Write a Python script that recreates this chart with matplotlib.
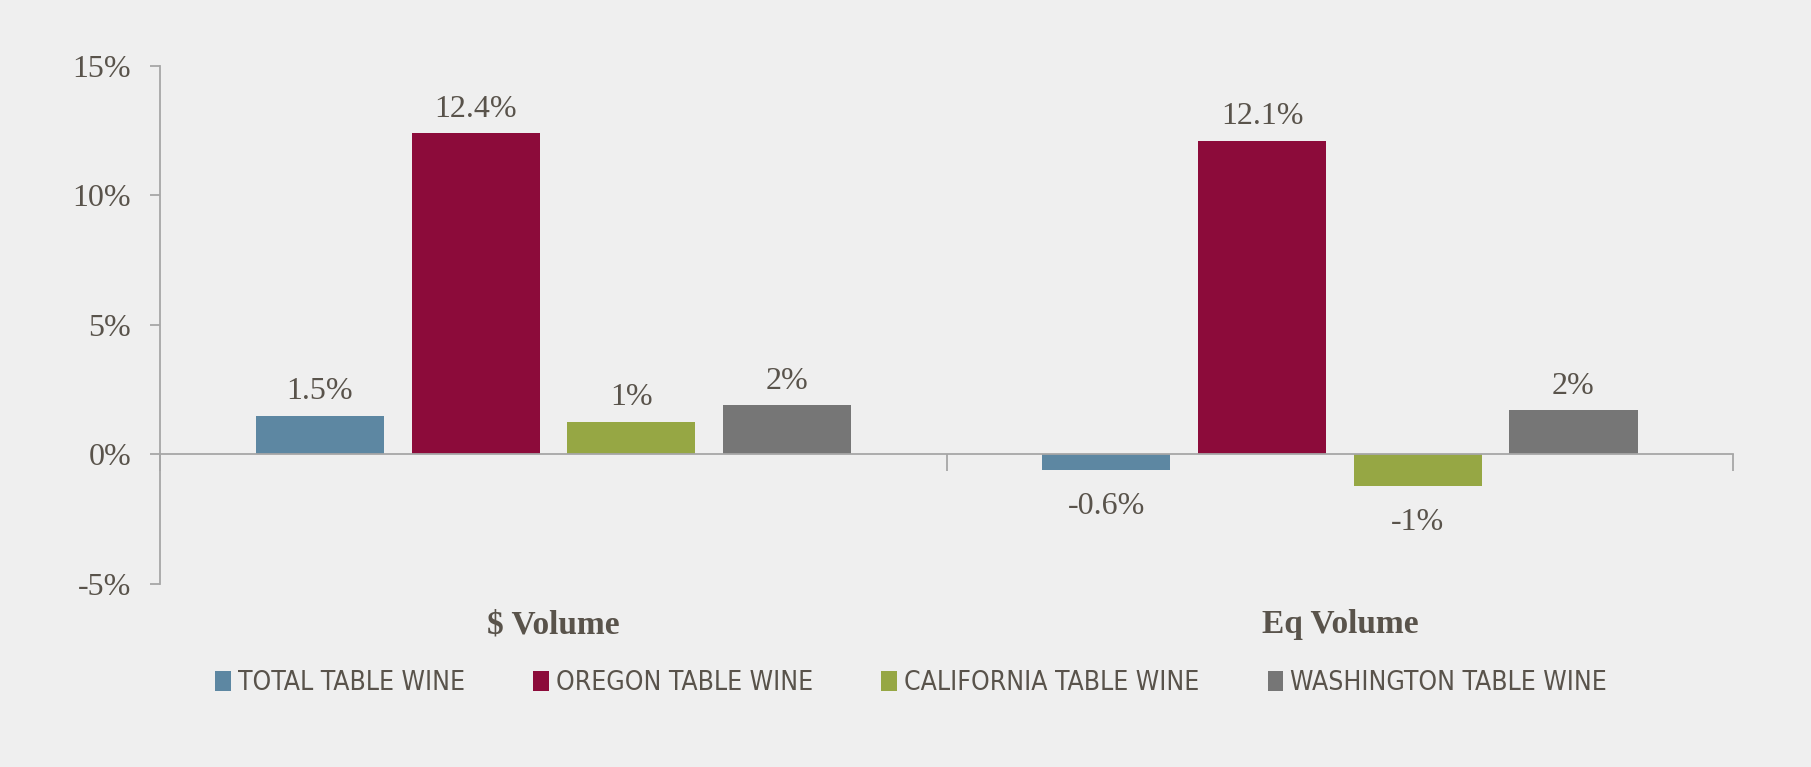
import numpy as np
import matplotlib.pyplot as plt
from matplotlib.patches import Patch
from matplotlib.transforms import blended_transform_factory

# data
categories = ["$ Volume", "Eq Volume"]
series = ["TOTAL TABLE WINE", "OREGON TABLE WINE", "CALIFORNIA TABLE WINE", "WASHINGTON TABLE WINE"]
values = {
    "TOTAL TABLE WINE": [1.5, -0.6],
    "OREGON TABLE WINE": [12.4, 12.1],
    "CALIFORNIA TABLE WINE": [1.25, -1.2],
    "WASHINGTON TABLE WINE": [1.9, 1.7],
}
labels = {
    "TOTAL TABLE WINE": ["1.5%", "-0.6%"],
    "OREGON TABLE WINE": ["12.4%", "12.1%"],
    "CALIFORNIA TABLE WINE": ["1%", "-1%"],
    "WASHINGTON TABLE WINE": ["2%", "2%"],
}
colors = ["#5d87a2", "#8c0b3a", "#96a744", "#767676"]
yticks = [-5, 0, 5, 10, 15]

bg = "#efefef"
txt = "#59534b"
axc = "#a6a6a6"
serif = ["Liberation Serif", "DejaVu Serif"]

fig = plt.figure(figsize=(18.11, 7.67), dpi=100, facecolor=bg)
ax = fig.add_axes([0.0885, 0.2386, 0.8685, 0.6754], facecolor=bg)

x = np.arange(len(categories))
slot = 0.198
width = 0.163
for i, s in enumerate(series):
    xs = x + (i - 1.5) * slot
    bars = ax.bar(xs, values[s], width, color=colors[i], zorder=2)
    for b, v, lab in zip(bars, values[s], labels[s]):
        off = 12 if v >= 0 else -32
        ax.annotate(lab, (b.get_x() + b.get_width() / 2, v), xytext=(0, off),
                    textcoords="offset points", ha="center", va="baseline",
                    fontsize=23, color=txt, family=serif)

ax.set_xlim(-0.5, len(categories) - 0.5)
ax.set_ylim(-5, 15)
ax.set_yticks(yticks)
ax.set_yticklabels([f"{t}%" for t in yticks], fontsize=23, color=txt, family=serif)
ax.set_xticks(np.arange(len(categories) + 1) - 0.5)
ax.set_xticklabels([])

for sp in ["top", "right"]:
    ax.spines[sp].set_visible(False)
ax.spines["left"].set_color(axc)
ax.spines["bottom"].set_color(axc)
ax.spines["left"].set_linewidth(1.3)
ax.spines["bottom"].set_linewidth(1.3)
ax.spines["bottom"].set_position(("data", 0))
ax.spines["bottom"].set_zorder(3)
ax.tick_params(axis="y", direction="out", length=7, width=1.3, color=axc, pad=14)
ax.tick_params(axis="x", direction="out", length=12, width=1.3, color=axc)

trans = blended_transform_factory(ax.transData, fig.transFigure)
for xi, c in zip(x, categories):
    ax.text(xi, 1 - 633 / 767, c, transform=trans, ha="center", va="baseline",
            fontsize=24, fontweight="bold", color=txt, family=serif)

handles = [Patch(facecolor=c, edgecolor="none") for c in colors]
fig.legend(handles, series, loc="center", bbox_to_anchor=(0.503, 1 - 683 / 767),
           ncol=4, frameon=False, handlelength=0.6, handleheight=0.8,
           handletextpad=0.25, columnspacing=2.6,
           prop={"family": "DejaVu Sans", "stretch": "condensed", "size": 19},
           labelcolor=txt)

fig.savefig("out.png", dpi=100, facecolor=bg)
